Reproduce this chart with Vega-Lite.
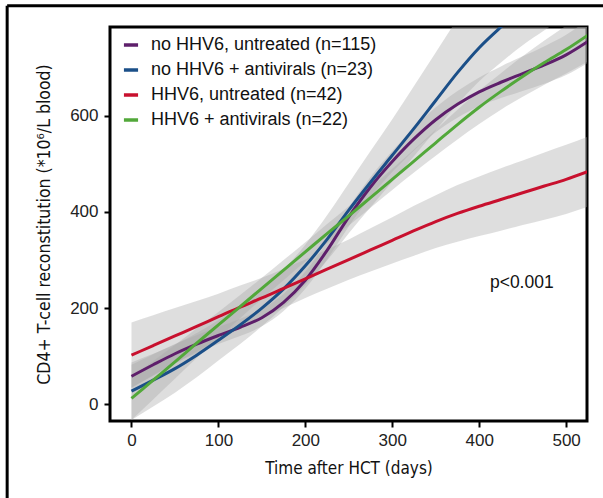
{
  "$schema": "https://vega.github.io/schema/vega-lite/v6.json",
  "width": 477,
  "height": 394,
  "autosize": {"type": "none"},
  "padding": {"left": 110, "top": 27, "right": 16, "bottom": 77},
  "background": "white",
  "config": {
    "view": {"stroke": "black", "strokeWidth": 3},
    "axis": {"domain": false, "grid": false, "tickColor": "black", "tickWidth": 2, "tickSize": 6, "labelFont": "Liberation Sans", "labelFontSize": 17, "labelColor": "#222222", "titleFont": "DejaVu Sans Condensed", "titleFontWeight": "normal", "titleColor": "#111111"},
    "legend": {"labelFont": "Liberation Sans", "labelFontSize": 18, "labelColor": "#111111", "labelLimit": 0}
  },
  "datasets": {
    "curves": [
      {"g":"no HHV6, untreated (n=115)","d":0,"y":58,"lo":34,"hi":82},
      {"g":"no HHV6, untreated (n=115)","d":25,"y":82,"lo":60,"hi":104},
      {"g":"no HHV6, untreated (n=115)","d":50,"y":105,"lo":85,"hi":125},
      {"g":"no HHV6, untreated (n=115)","d":75,"y":125,"lo":106,"hi":144},
      {"g":"no HHV6, untreated (n=115)","d":100,"y":143,"lo":125,"hi":161},
      {"g":"no HHV6, untreated (n=115)","d":125,"y":160,"lo":142,"hi":178},
      {"g":"no HHV6, untreated (n=115)","d":150,"y":180,"lo":162,"hi":198},
      {"g":"no HHV6, untreated (n=115)","d":175,"y":212,"lo":194,"hi":230},
      {"g":"no HHV6, untreated (n=115)","d":200,"y":258,"lo":240,"hi":276},
      {"g":"no HHV6, untreated (n=115)","d":225,"y":320,"lo":301,"hi":339},
      {"g":"no HHV6, untreated (n=115)","d":250,"y":390,"lo":370,"hi":410},
      {"g":"no HHV6, untreated (n=115)","d":275,"y":452,"lo":431,"hi":473},
      {"g":"no HHV6, untreated (n=115)","d":300,"y":505,"lo":483,"hi":527},
      {"g":"no HHV6, untreated (n=115)","d":325,"y":552,"lo":528,"hi":576},
      {"g":"no HHV6, untreated (n=115)","d":350,"y":592,"lo":566,"hi":618},
      {"g":"no HHV6, untreated (n=115)","d":375,"y":624,"lo":596,"hi":652},
      {"g":"no HHV6, untreated (n=115)","d":400,"y":650,"lo":620,"hi":680},
      {"g":"no HHV6, untreated (n=115)","d":425,"y":670,"lo":637,"hi":703},
      {"g":"no HHV6, untreated (n=115)","d":450,"y":688,"lo":652,"hi":724},
      {"g":"no HHV6, untreated (n=115)","d":475,"y":706,"lo":667,"hi":745},
      {"g":"no HHV6, untreated (n=115)","d":500,"y":727,"lo":685,"hi":769},
      {"g":"no HHV6, untreated (n=115)","d":525,"y":755,"lo":710,"hi":800},
      {"g":"no HHV6 + antivirals (n=23)","d":0,"y":27,"lo":-33,"hi":87},
      {"g":"no HHV6 + antivirals (n=23)","d":25,"y":50,"lo":-5,"hi":105},
      {"g":"no HHV6 + antivirals (n=23)","d":50,"y":74,"lo":24,"hi":124},
      {"g":"no HHV6 + antivirals (n=23)","d":75,"y":102,"lo":56,"hi":148},
      {"g":"no HHV6 + antivirals (n=23)","d":100,"y":133,"lo":91,"hi":175},
      {"g":"no HHV6 + antivirals (n=23)","d":125,"y":165,"lo":125,"hi":205},
      {"g":"no HHV6 + antivirals (n=23)","d":150,"y":200,"lo":162,"hi":238},
      {"g":"no HHV6 + antivirals (n=23)","d":175,"y":240,"lo":202,"hi":280},
      {"g":"no HHV6 + antivirals (n=23)","d":200,"y":288,"lo":248,"hi":332},
      {"g":"no HHV6 + antivirals (n=23)","d":225,"y":343,"lo":299,"hi":393},
      {"g":"no HHV6 + antivirals (n=23)","d":250,"y":404,"lo":356,"hi":460},
      {"g":"no HHV6 + antivirals (n=23)","d":275,"y":462,"lo":410,"hi":527},
      {"g":"no HHV6 + antivirals (n=23)","d":300,"y":518,"lo":463,"hi":593},
      {"g":"no HHV6 + antivirals (n=23)","d":325,"y":574,"lo":516,"hi":662},
      {"g":"no HHV6 + antivirals (n=23)","d":350,"y":632,"lo":570,"hi":732},
      {"g":"no HHV6 + antivirals (n=23)","d":375,"y":690,"lo":624,"hi":802},
      {"g":"no HHV6 + antivirals (n=23)","d":400,"y":742,"lo":672,"hi":867},
      {"g":"no HHV6 + antivirals (n=23)","d":425,"y":785,"lo":711,"hi":923},
      {"g":"no HHV6 + antivirals (n=23)","d":450,"y":825,"lo":747,"hi":975},
      {"g":"no HHV6 + antivirals (n=23)","d":475,"y":860,"lo":778,"hi":1022},
      {"g":"no HHV6 + antivirals (n=23)","d":500,"y":895,"lo":810,"hi":1070},
      {"g":"no HHV6 + antivirals (n=23)","d":525,"y":928,"lo":840,"hi":1113},
      {"g":"HHV6, untreated (n=42)","d":0,"y":102,"lo":34,"hi":170},
      {"g":"HHV6, untreated (n=42)","d":25,"y":122,"lo":59,"hi":185},
      {"g":"HHV6, untreated (n=42)","d":50,"y":142,"lo":84,"hi":200},
      {"g":"HHV6, untreated (n=42)","d":75,"y":162,"lo":109,"hi":215},
      {"g":"HHV6, untreated (n=42)","d":100,"y":182,"lo":134,"hi":230},
      {"g":"HHV6, untreated (n=42)","d":125,"y":202,"lo":157,"hi":247},
      {"g":"HHV6, untreated (n=42)","d":150,"y":221,"lo":179,"hi":263},
      {"g":"HHV6, untreated (n=42)","d":175,"y":241,"lo":200,"hi":282},
      {"g":"HHV6, untreated (n=42)","d":200,"y":261,"lo":221,"hi":301},
      {"g":"HHV6, untreated (n=42)","d":225,"y":281,"lo":240,"hi":322},
      {"g":"HHV6, untreated (n=42)","d":250,"y":301,"lo":259,"hi":343},
      {"g":"HHV6, untreated (n=42)","d":275,"y":321,"lo":276,"hi":366},
      {"g":"HHV6, untreated (n=42)","d":300,"y":341,"lo":293,"hi":389},
      {"g":"HHV6, untreated (n=42)","d":325,"y":361,"lo":309,"hi":413},
      {"g":"HHV6, untreated (n=42)","d":350,"y":380,"lo":325,"hi":435},
      {"g":"HHV6, untreated (n=42)","d":375,"y":397,"lo":338,"hi":456},
      {"g":"HHV6, untreated (n=42)","d":400,"y":412,"lo":350,"hi":474},
      {"g":"HHV6, untreated (n=42)","d":425,"y":426,"lo":361,"hi":491},
      {"g":"HHV6, untreated (n=42)","d":450,"y":440,"lo":373,"hi":507},
      {"g":"HHV6, untreated (n=42)","d":475,"y":454,"lo":384,"hi":524},
      {"g":"HHV6, untreated (n=42)","d":500,"y":468,"lo":396,"hi":540},
      {"g":"HHV6, untreated (n=42)","d":525,"y":484,"lo":411,"hi":557},
      {"g":"HHV6 + antivirals (n=22)","d":0,"y":12,"lo":-33,"hi":57},
      {"g":"HHV6 + antivirals (n=22)","d":25,"y":50,"lo":10,"hi":90},
      {"g":"HHV6 + antivirals (n=22)","d":50,"y":88,"lo":53,"hi":123},
      {"g":"HHV6 + antivirals (n=22)","d":75,"y":127,"lo":96,"hi":158},
      {"g":"HHV6 + antivirals (n=22)","d":100,"y":165,"lo":138,"hi":192},
      {"g":"HHV6 + antivirals (n=22)","d":125,"y":203,"lo":179,"hi":227},
      {"g":"HHV6 + antivirals (n=22)","d":150,"y":241,"lo":219,"hi":263},
      {"g":"HHV6 + antivirals (n=22)","d":175,"y":279,"lo":258,"hi":300},
      {"g":"HHV6 + antivirals (n=22)","d":200,"y":317,"lo":297,"hi":337},
      {"g":"HHV6 + antivirals (n=22)","d":225,"y":355,"lo":335,"hi":375},
      {"g":"HHV6 + antivirals (n=22)","d":250,"y":392,"lo":372,"hi":412},
      {"g":"HHV6 + antivirals (n=22)","d":275,"y":430,"lo":409,"hi":451},
      {"g":"HHV6 + antivirals (n=22)","d":300,"y":468,"lo":446,"hi":490},
      {"g":"HHV6 + antivirals (n=22)","d":325,"y":506,"lo":482,"hi":530},
      {"g":"HHV6 + antivirals (n=22)","d":350,"y":544,"lo":517,"hi":571},
      {"g":"HHV6 + antivirals (n=22)","d":375,"y":582,"lo":551,"hi":613},
      {"g":"HHV6 + antivirals (n=22)","d":400,"y":618,"lo":583,"hi":653},
      {"g":"HHV6 + antivirals (n=22)","d":425,"y":651,"lo":613,"hi":689},
      {"g":"HHV6 + antivirals (n=22)","d":450,"y":682,"lo":640,"hi":724},
      {"g":"HHV6 + antivirals (n=22)","d":475,"y":711,"lo":665,"hi":757},
      {"g":"HHV6 + antivirals (n=22)","d":500,"y":738,"lo":688,"hi":788},
      {"g":"HHV6 + antivirals (n=22)","d":525,"y":768,"lo":713,"hi":823}
    ],
    "note": [{"d": 449, "y": 252, "label": "p<0.001"}]
  },
  "layer": [
    {
      "data": {"name": "curves"},
      "mark": {"type": "area", "clip": true, "fill": "#a8a8a8", "opacity": 0.38, "interpolate": "monotone"},
      "encoding": {
        "x": {"field": "d", "type": "quantitative", "scale": {"domain": [-24.7, 524], "nice": false, "zero": false},
          "axis": {"values": [0, 100, 200, 300, 400, 500], "title": "Time after HCT (days)", "titleFontSize": 17, "labelPadding": 5, "titlePadding": 12}},
        "y": {"field": "lo", "type": "quantitative", "scale": {"domain": [-35, 785], "nice": false, "zero": false},
          "axis": {"values": [0, 200, 400, 600], "title": "CD4+ T-cell reconstitution (*10⁶/L blood)", "titleFontSize": 17.5, "labelPadding": 6, "titlePadding": 16}},
        "y2": {"field": "hi"},
        "detail": {"field": "g"}
      }
    },
    {
      "data": {"name": "curves"},
      "mark": {"type": "line", "clip": true, "strokeWidth": 3, "interpolate": "monotone"},
      "encoding": {
        "x": {"field": "d", "type": "quantitative"},
        "y": {"field": "y", "type": "quantitative"},
        "color": {"field": "g", "type": "nominal",
          "scale": {"domain": ["no HHV6, untreated (n=115)", "no HHV6 + antivirals (n=23)", "HHV6, untreated (n=42)", "HHV6 + antivirals (n=22)"],
                    "range": ["#5e1f6b", "#1b4f88", "#c8102e", "#52a83a"]},
          "legend": {"title": null, "orient": "none", "legendX": 12, "legendY": 9, "symbolType": "stroke", "symbolStrokeWidth": 3.5, "symbolSize": 200, "rowPadding": 7, "labelOffset": 11, "padding": 0}}
      }
    },
    {
      "data": {"name": "note"},
      "mark": {"type": "text", "font": "Liberation Sans", "fontSize": 17.5, "color": "#111111", "align": "center", "baseline": "middle"},
      "encoding": {
        "x": {"field": "d", "type": "quantitative"},
        "y": {"field": "y", "type": "quantitative"},
        "text": {"field": "label"}
      }
    },
    {
      "data": {"values": [{"x1": -143, "x2": 700, "y1": 829, "y2": 829}, {"x1": -143, "x2": -143, "y1": 829, "y2": -300}]},
      "mark": {"type": "rule", "color": "black", "strokeWidth": 3},
      "encoding": {
        "x": {"field": "x1", "type": "quantitative"},
        "x2": {"field": "x2"},
        "y": {"field": "y1", "type": "quantitative"},
        "y2": {"field": "y2"}
      }
    }
  ]
}
